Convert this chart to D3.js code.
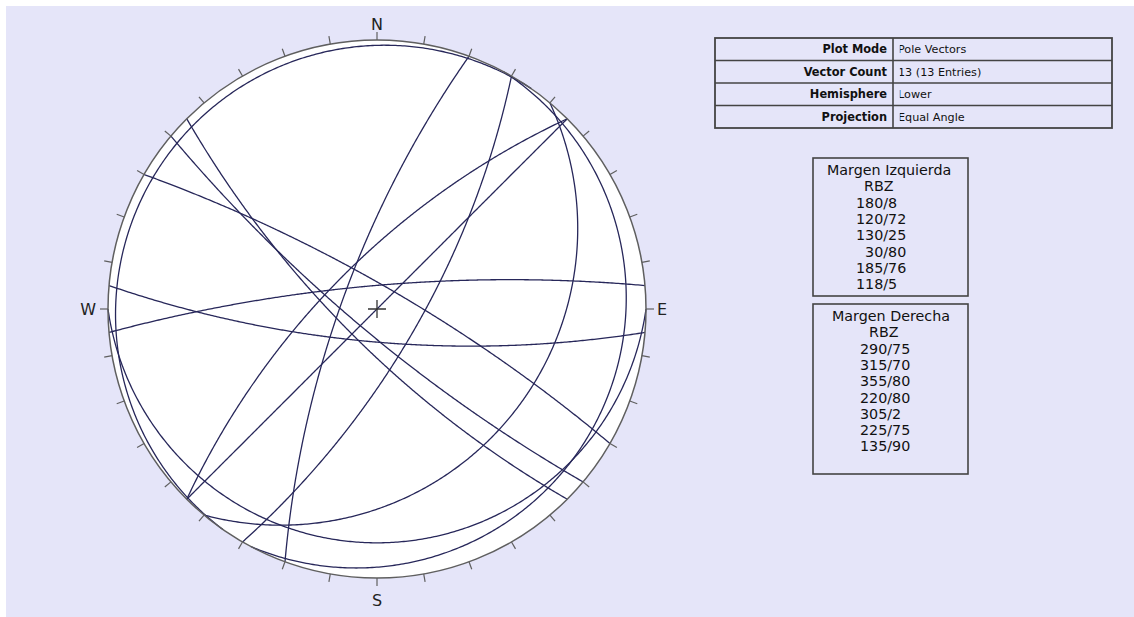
<!DOCTYPE html>
<html>
<head>
<meta charset="utf-8">
<script src="https://cdnjs.cloudflare.com/ajax/libs/d3/7.8.5/d3.min.js"></script>
<style>
    html, body { margin: 0; padding: 0; background: #fff; }
    svg { display: block; }
    text { font-family: 'DejaVu Sans', Verdana, sans-serif; }
</style>
</head>
<body>
<svg id="chart" width="1134" height="617"></svg>
<script>
(function () {
    'use strict';

    // Margen Izquierda (dip direction / dip)
    var izqDipDir = [180, 120, 130, 30, 185, 118],
        izqDip = [8, 72, 25, 80, 76, 5],
    // Margen Derecha (dip direction / dip)
        derDipDir = [290, 315, 355, 220, 305, 225, 135],
        derDip = [75, 70, 80, 80, 2, 75, 90],
        groupTitles = ['Margen Izquierda', 'Margen Derecha'],
        groupSubtitle = 'RBZ',
        infoLabels = ['Plot Mode', 'Vector Count', 'Hemisphere', 'Projection'],
        infoValues = ['Pole Vectors', '13 (13 Entries)', 'Lower', 'Equal Angle'],
        cardinals = ['N', 'E', 'S', 'W'],
        tickAzimuths = d3.range(0, 360, 10);

    var width = 1134,
        height = 617,
        cx = 377,
        cy = 309,
        radius = 269,
        tickLength = 8,
        lineColor = '#27275a',
        rimColor = '#5f5f5f',
        boxColor = '#444',
        rad = Math.PI / 180;

    var planes = izqDipDir.map(function (dd, i) {
            return { dipDir: dd, dip: izqDip[i] };
        }).concat(derDipDir.map(function (dd, i) {
            return { dipDir: dd, dip: derDip[i] };
        }));

    // equal angle projection: r = R * tan((90 - plunge) / 2)
    var rScale = d3.scaleLinear().domain([0, 1]).range([0, radius]);

    function project(trend, plunge) {
        var r = rScale(Math.tan((90 - plunge) / 2 * rad));
        return [cx + r * Math.sin(trend * rad), cy - r * Math.cos(trend * rad)];
    }

    // lower hemisphere great circle, swept from strike through dip line to strike + 180
    function greatCircle(p) {
        var s = (p.dipDir - 90) * rad,
            d = p.dipDir * rad,
            dip = p.dip * rad,
            sv = [Math.sin(s), Math.cos(s), 0],
            dv = [Math.cos(dip) * Math.sin(d), Math.cos(dip) * Math.cos(d), -Math.sin(dip)];

        return d3.range(0, 180.25, 0.5).map(function (t) {
            var a = t * rad,
                e = Math.cos(a) * sv[0] + Math.sin(a) * dv[0],
                n = Math.cos(a) * sv[1] + Math.sin(a) * dv[1],
                z = Math.cos(a) * sv[2] + Math.sin(a) * dv[2],
                trend = Math.atan2(e, n) / rad,
                plunge = Math.asin(Math.max(0, Math.min(1, -z))) / rad;
            return project(trend, plunge);
        });
    }

    var svg = d3.select('#chart')
        .attr('width', width)
        .attr('height', height);

    svg.append('rect')
        .attr('x', 6)
        .attr('y', 6)
        .attr('width', width - 6)
        .attr('height', height - 6)
        .attr('fill', '#e5e5f9');

    var net = svg.append('g').attr('class', 'stereonet');

    net.append('circle')
        .attr('cx', cx)
        .attr('cy', cy)
        .attr('r', radius)
        .attr('fill', '#fff')
        .attr('stroke', 'none');

    var line = d3.line().curve(d3.curveLinear);

    net.selectAll('.great-circle')
        .data(planes)
        .enter()
        .append('path')
        .attr('class', 'great-circle')
        .attr('d', function (d) { return line(greatCircle(d)); })
        .attr('fill', 'none')
        .attr('stroke', lineColor)
        .attr('stroke-width', 1.3);

    net.append('circle')
        .attr('cx', cx)
        .attr('cy', cy)
        .attr('r', radius)
        .attr('fill', 'none')
        .attr('stroke', rimColor)
        .attr('stroke-width', 1.5);

    net.selectAll('.tick')
        .data(tickAzimuths)
        .enter()
        .append('line')
        .attr('class', 'tick')
        .attr('x1', function (d) { return cx + radius * Math.sin(d * rad); })
        .attr('y1', function (d) { return cy - radius * Math.cos(d * rad); })
        .attr('x2', function (d) { return cx + (radius + tickLength) * Math.sin(d * rad); })
        .attr('y2', function (d) { return cy - (radius + tickLength) * Math.cos(d * rad); })
        .attr('stroke', rimColor)
        .attr('stroke-width', 1.2);

    net.selectAll('.cardinal')
        .data(cardinals)
        .enter()
        .append('text')
        .attr('class', 'cardinal')
        .attr('x', function (d, i) {
            return [cx, cx + radius + 11, cx, cx - radius - 12][i];
        })
        .attr('y', function (d, i) {
            return [cy - radius - 10, cy + 6, cy + radius + 28, cy + 6][i];
        })
        .attr('text-anchor', function (d, i) {
            return ['middle', 'start', 'middle', 'end'][i];
        })
        .attr('font-size', 16)
        .attr('fill', '#222')
        .text(function (d) { return d; });

    // centre cross
    net.append('path')
        .attr('d', 'M' + (cx - 9) + ',' + cy + 'H' + (cx + 9) + 'M' + cx + ',' + (cy - 9) + 'V' + (cy + 9))
        .attr('stroke', '#333')
        .attr('stroke-width', 1.3);

    // info table
    var table = svg.append('g').attr('class', 'info'),
        tx = 715, ty = 38, tw = 397, rowH = 22.5, splitX = 893;

    svg.append('clipPath')
        .attr('id', 'value-clip')
        .append('rect')
        .attr('x', splitX + 6.8)
        .attr('y', ty)
        .attr('width', tx + tw - splitX - 9)
        .attr('height', rowH * infoLabels.length);

    table.selectAll('.row-line')
        .data(d3.range(1, infoLabels.length))
        .enter()
        .append('line')
        .attr('x1', tx)
        .attr('x2', tx + tw)
        .attr('y1', function (d) { return ty + d * rowH; })
        .attr('y2', function (d) { return ty + d * rowH; })
        .attr('stroke', boxColor)
        .attr('stroke-width', 1.6);

    table.append('line')
        .attr('x1', splitX)
        .attr('x2', splitX)
        .attr('y1', ty)
        .attr('y2', ty + rowH * infoLabels.length)
        .attr('stroke', boxColor)
        .attr('stroke-width', 1.6);

    table.append('rect')
        .attr('x', tx)
        .attr('y', ty)
        .attr('width', tw)
        .attr('height', rowH * infoLabels.length)
        .attr('fill', 'none')
        .attr('stroke', boxColor)
        .attr('stroke-width', 1.8);

    table.selectAll('.info-label')
        .data(infoLabels)
        .enter()
        .append('text')
        .attr('class', 'info-label')
        .attr('x', splitX - 6)
        .attr('y', function (d, i) { return ty + i * rowH + rowH / 2 + 4; })
        .attr('text-anchor', 'end')
        .attr('font-size', 11.4)
        .attr('font-weight', 'bold')
        .attr('fill', '#111')
        .text(function (d) { return d; });

    table.selectAll('.info-value')
        .data(infoValues)
        .enter()
        .append('text')
        .attr('class', 'info-value')
        .attr('clip-path', 'url(#value-clip)')
        .attr('x', splitX + 5)
        .attr('y', function (d, i) { return ty + i * rowH + rowH / 2 + 4; })
        .attr('font-size', 11.2)
        .attr('fill', '#111')
        .text(function (d) { return d; });

    // legend boxes with the plane lists
    var groups = [
        { title: groupTitles[0], dirs: izqDipDir, dips: izqDip, x: 813, y: 158, h: 138, titleX: 14, subX: 51, valX: 43 },
        { title: groupTitles[1], dirs: derDipDir, dips: derDip, x: 813, y: 304, h: 170, titleX: 19, subX: 56, valX: 47 }
    ];

    var lineH = 16.3;

    groups.forEach(function (g) {
        var box = svg.append('g').attr('class', 'legend-box'),
            lines = [g.title, groupSubtitle].concat(g.dirs.map(function (dd, i) {
                return (dd < 100 ? '\u2007' : '') + dd + '/' + g.dips[i];
            }));

        box.append('rect')
            .attr('x', g.x)
            .attr('y', g.y)
            .attr('width', 155)
            .attr('height', g.h)
            .attr('fill', 'none')
            .attr('stroke', boxColor)
            .attr('stroke-width', 1.6);

        box.selectAll('text')
            .data(lines)
            .enter()
            .append('text')
            .attr('x', function (d, i) {
                return g.x + (i === 0 ? g.titleX : i === 1 ? g.subX : g.valX);
            })
            .attr('y', function (d, i) { return g.y + 17 + i * lineH; })
            .attr('font-size', 14.3)
            .attr('fill', '#111')
            .text(function (d) { return d; });
    });
})();
</script>
</body>
</html>
